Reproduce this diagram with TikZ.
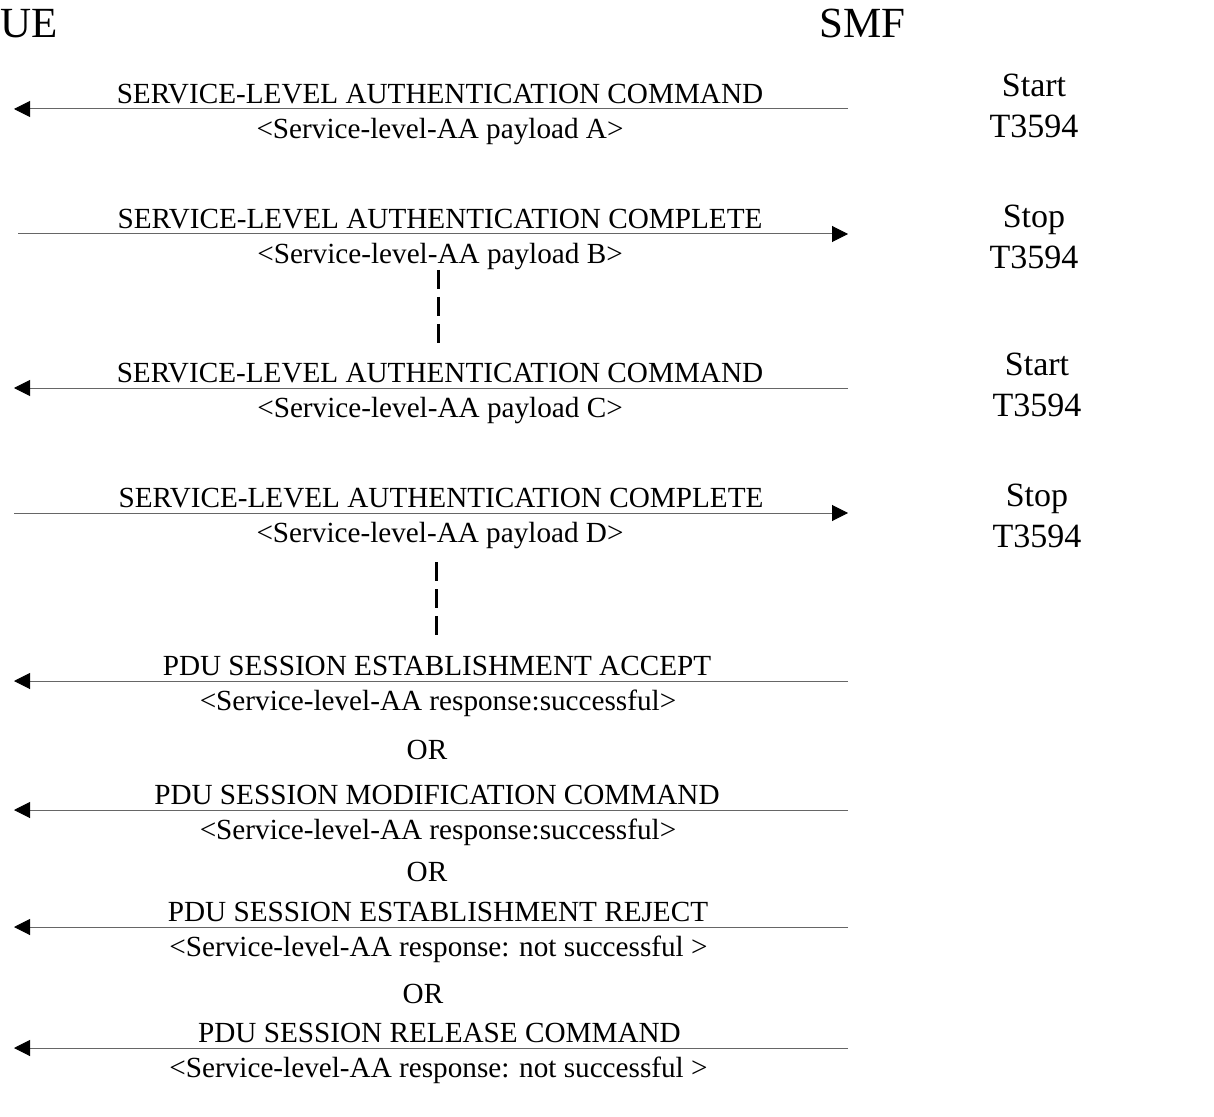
\documentclass[tikz,border=0pt]{standalone}
\usepackage{fontspec}
\setmainfont{Liberation Serif}
\usetikzlibrary{arrows.meta}

\begin{document}
\begin{tikzpicture}[x=0.5pt,y=-0.5pt,
  msg/.style={draw=black!60,line width=0.5pt,-{Triangle[length=8pt,width=8pt,black]}},
  gap/.style={draw=black,line width=1.5pt,dash pattern=on 9.5pt off 4pt},
  lbl/.style={font=\fontsize{14.6}{17}\selectfont,anchor=base,inner sep=0pt},
  ent/.style={font=\fontsize{21.5}{25}\selectfont,anchor=base west,inner sep=0pt},
  timer/.style={font=\fontsize{17}{20.5}\selectfont,anchor=base,inner sep=0pt,align=center}]
\useasboundingbox (0,0) rectangle (1214,1117);

\node[ent] (UE) at (0,38) {UE};
\node[ent] (SMF) at (819,38) {SMF};

% service-level authentication, first round
\coordinate (ue1) at (14,109);
\coordinate (smf1) at (848,109);
\draw[msg] (smf1) -- (ue1);
\node[lbl] (m1a) at (440,103.5) {SERVICE-LEVEL AUTHENTICATION COMMAND};
\node[lbl] (m1b) at (440,138.5) {<Service-level-AA payload A>};
\node[timer] (t1) at (1034,138) {Start\\T3594};

\coordinate (ue2) at (18,234);
\coordinate (smf2) at (848,234);
\draw[msg] (ue2) -- (smf2);
\node[lbl] (m2a) at (440,228.5) {SERVICE-LEVEL AUTHENTICATION COMPLETE};
\node[lbl] (m2b) at (440,263.5) {<Service-level-AA payload B>};
\node[timer] (t2) at (1034,269) {Stop\\T3594};

\coordinate (gap1a) at (438,270);
\coordinate (gap1b) at (438,345);
\draw[gap] (gap1a) -- (gap1b);

% service-level authentication, last round
\coordinate (ue3) at (14,388);
\coordinate (smf3) at (848,388);
\draw[msg] (smf3) -- (ue3);
\node[lbl] (m3a) at (440,382.5) {SERVICE-LEVEL AUTHENTICATION COMMAND};
\node[lbl] (m3b) at (440,417.5) {<Service-level-AA payload C>};
\node[timer] (t3) at (1037,416) {Start\\T3594};

\coordinate (ue4) at (14,513);
\coordinate (smf4) at (848,513);
\draw[msg] (ue4) -- (smf4);
\node[lbl] (m4a) at (441,507.5) {SERVICE-LEVEL AUTHENTICATION COMPLETE};
\node[lbl] (m4b) at (440,542.5) {<Service-level-AA payload D>};
\node[timer] (t4) at (1037,547) {Stop\\T3594};

\coordinate (gap2a) at (436,562);
\coordinate (gap2b) at (436,640);
\draw[gap] (gap2a) -- (gap2b);

% outcome
\coordinate (ue5) at (14,681);
\coordinate (smf5) at (848,681);
\draw[msg] (smf5) -- (ue5);
\node[lbl] (m5a) at (437,675.5) {PDU SESSION ESTABLISHMENT ACCEPT};
\node[lbl] (m5b) at (438,710.5) {<Service-level-AA response:successful>};
\node[lbl] (or1) at (427,759) {OR};

\coordinate (ue6) at (14,810);
\coordinate (smf6) at (848,810);
\draw[msg] (smf6) -- (ue6);
\node[lbl] (m6a) at (437,804.5) {PDU SESSION MODIFICATION COMMAND};
\node[lbl] (m6b) at (438,839.5) {<Service-level-AA response:successful>};
\node[lbl] (or2) at (427,881) {OR};

\coordinate (ue7) at (14,927);
\coordinate (smf7) at (848,927);
\draw[msg] (smf7) -- (ue7);
\node[lbl] (m7a) at (438,921.5) {PDU SESSION ESTABLISHMENT REJECT};
\node[lbl] (m7b) at (438.5,956.5) {<Service-level-AA response: not successful >};
\node[lbl] (or3) at (423,1003) {OR};

\coordinate (ue8) at (14,1048);
\coordinate (smf8) at (848,1048);
\draw[msg] (smf8) -- (ue8);
\node[lbl] (m8a) at (439.5,1042.5) {PDU SESSION RELEASE COMMAND};
\node[lbl] (m8b) at (438.5,1077.5) {<Service-level-AA response: not successful >};
\end{tikzpicture}
\end{document}
